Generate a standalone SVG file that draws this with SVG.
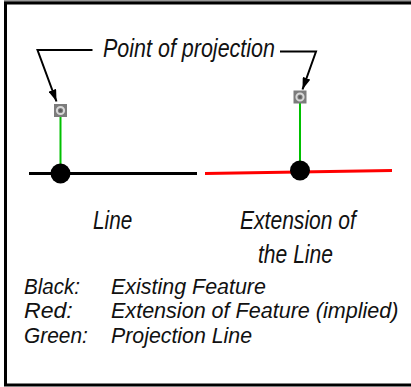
<svg xmlns="http://www.w3.org/2000/svg" width="411" height="387" viewBox="0 0 411 387">
<style>
.t{font-family:"Liberation Sans",Arial,sans-serif;font-style:italic;font-size:25px;fill:#111}
.s{font-size:22px}
.lead{stroke:#000;stroke-width:2;fill:none}
.proj{stroke:#00c000;stroke-width:2}
.sq{fill:#7c7c7c}
</style>
<defs>
<marker id="ah" markerWidth="12" markerHeight="8" refX="12" refY="4" orient="auto" markerUnits="userSpaceOnUse">
<path d="M0,0 L12,4 L0,8 Z" fill="#000"/>
</marker>
<g id="pt">
<rect class="sq" x="-6.5" y="-6.5" width="13" height="13"/>
<circle r="3.6" fill="none" stroke="#d8d8d8" stroke-width="2"/>
<circle r="1.5" fill="#5a5a5a"/>
</g>
</defs>
<rect x="0" y="0" width="411" height="387" fill="#fff"/>
<line x1="4" y1="1" x2="411" y2="1" stroke="#999" stroke-width="2"/>
<rect x="5.5" y="3" width="420" height="382" fill="#fff" stroke="#000" stroke-width="3"/>

<g id="features">
<line x1="29" y1="173.5" x2="197" y2="173.5" stroke="#000" stroke-width="3"/>
<line x1="205" y1="173.5" x2="392" y2="170.5" stroke="#ff0000" stroke-width="3"/>
</g>

<g id="connectors">
<polyline class="lead" points="92.5,50 37.5,50 56.5,101.5" marker-end="url(#ah)"/>
<polyline class="lead" points="280,51.5 316,51.5 302.5,89.5" marker-end="url(#ah)"/>
<line class="proj" x1="60.5" y1="117" x2="60.5" y2="170"/>
<line class="proj" x1="300" y1="103" x2="300" y2="166"/>
</g>

<g id="point-left">
<use href="#pt" x="60.5" y="110.5"/>
<circle cx="60.5" cy="173.5" r="10" fill="#000"/>
</g>
<g id="point-right">
<use href="#pt" x="300" y="97"/>
<circle cx="300" cy="170.5" r="10" fill="#000"/>
</g>

<g id="labels">
<text class="t" transform="translate(103,57) scale(0.86,1)">Point of projection</text>
<text class="t" transform="translate(93,229) scale(0.83,1)">Line</text>
<text class="t" transform="translate(240,229) scale(0.843,1)">Extension of</text>
<text class="t" transform="translate(258,263) scale(0.843,1)">the Line</text>
</g>

<g id="legend">
<text class="t s" transform="translate(24,294) scale(0.935,1)">Black:</text>
<text class="t s" transform="translate(111,294) scale(0.975,1)">Existing Feature</text>
<text class="t s" transform="translate(24,318) scale(1.05,1)">Red:</text>
<text class="t s" transform="translate(111,318) scale(0.98,1)">Extension of Feature (implied)</text>
<text class="t s" transform="translate(24,343) scale(0.95,1)">Green:</text>
<text class="t s" transform="translate(111,343) scale(0.97,1)">Projection Line</text>
</g>
</svg>
